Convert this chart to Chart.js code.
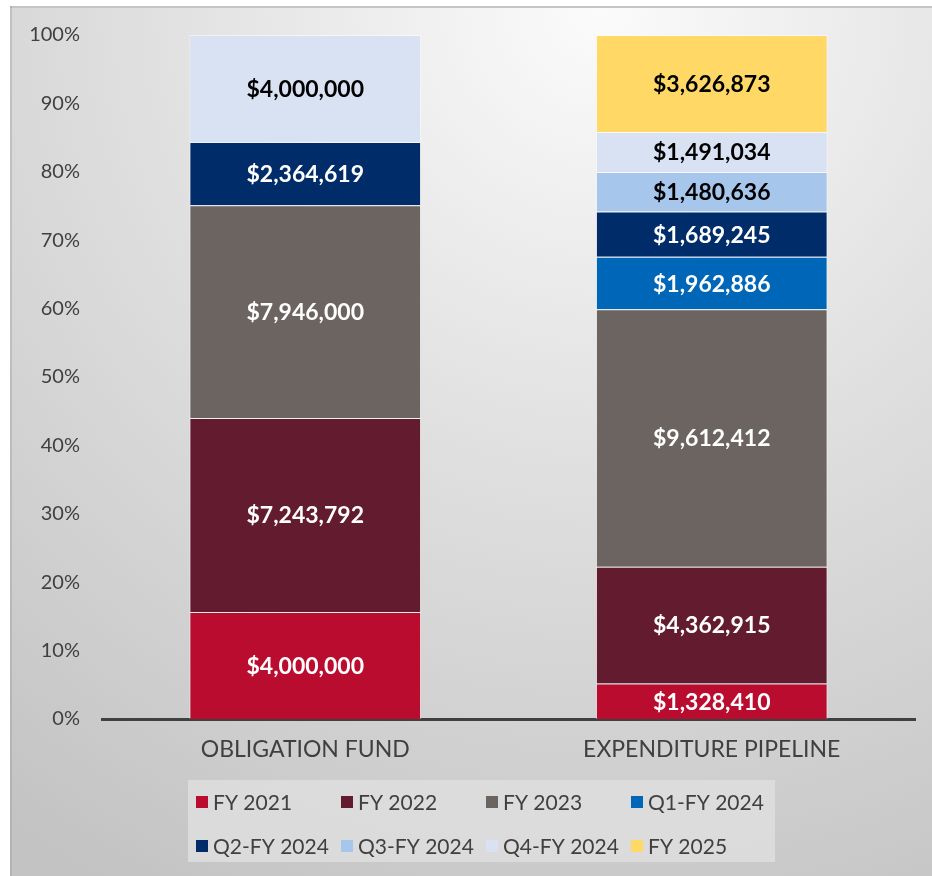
<!DOCTYPE html>
<html>
<head>
<meta charset="utf-8">
<script src="https://cdn.jsdelivr.net/npm/chart.js@4"></script>
<style>
  html, body { margin: 0; padding: 0; background: #fff; }
  #wrap { width: 932px; height: 876px; }
</style>
</head>
<body>
<div id="wrap"><canvas id="fundChart" width="932" height="876"></canvas></div>
<script>
const categories = ["OBLIGATION FUND", "EXPENDITURE PIPELINE"];
const seriesNames = ["FY 2021", "FY 2022", "FY 2023", "Q1-FY 2024", "Q2-FY 2024", "Q3-FY 2024", "Q4-FY 2024", "FY 2025"];
const fy2021 = [4000000, 1328410];
const fy2022 = [7243792, 4362915];
const fy2023 = [7946000, 9612412];
const q1fy2024 = [0, 1962886];
const q2fy2024 = [2364619, 1689245];
const q3fy2024 = [0, 1480636];
const q4fy2024 = [4000000, 1491034];
const fy2025 = [0, 3626873];
const yTicks = ["0%", "10%", "20%", "30%", "40%", "50%", "60%", "70%", "80%", "90%", "100%"];

const seriesValues = [fy2021, fy2022, fy2023, q1fy2024, q2fy2024, q3fy2024, q4fy2024, fy2025];
const colors = ["#BA0C2F", "#621B2F", "#6B6461", "#0066B7", "#002D69", "#A6C6EB", "#D9E2F3", "#FFD866"];
const labelColors = ["#fff", "#fff", "#fff", "#fff", "#fff", "#000", "#000", "#000"];

// column totals, used to turn the amounts into shares of 100%
const totals = categories.map((c, i) => seriesValues.reduce((s, arr) => s + arr[i], 0));

const FONT = "Lato, 'Open Sans', sans-serif";

const background = {
  id: "background",
  beforeDraw(chart) {
    const c = chart.ctx;
    c.save();
    c.fillStyle = "#fff";
    c.fillRect(0, 0, chart.width, chart.height);
    const g = c.createRadialGradient(600, 10, 0, 600, 10, 1000);
    g.addColorStop(0, "#fbfbfb");
    g.addColorStop(0.45, "#e0e0e0");
    g.addColorStop(1, "#c3c3c3");
    c.fillStyle = g;
    c.fillRect(10, 6, chart.width - 10, chart.height - 6);
    c.fillStyle = "#c4c4c4";
    c.fillRect(10, 6, chart.width - 10, 2);
    c.fillStyle = "rgba(150,150,150,0.35)";
    c.fillRect(10, 6, 2, chart.height - 6);
    c.restore();
  }
};

const valueLabels = {
  id: "valueLabels",
  afterDatasetsDraw(chart) {
    const c = chart.ctx;
    c.save();
    c.font = "bold 23px " + FONT;
    c.textAlign = "center";
    c.textBaseline = "middle";
    chart.data.datasets.forEach((ds, di) => {
      const meta = chart.getDatasetMeta(di);
      meta.data.forEach((bar, i) => {
        const v = seriesValues[di][i];
        if (!v) return;
        const { x, y, base } = bar.getProps(["x", "y", "base"], true);
        c.fillStyle = labelColors[di];
        c.fillText("$" + v.toLocaleString("en-US"), x, (y + base) / 2 + 1);
      });
    });
    c.restore();
  }
};

const boxLegend = {
  id: "boxLegend",
  afterDraw(chart) {
    const c = chart.ctx;
    c.save();
    c.fillStyle = "rgba(222,222,222,0.85)";
    c.fillRect(188, 780, 587, 82);
    c.font = "21px " + FONT;
    c.textBaseline = "middle";
    c.textAlign = "left";
    const cols = [196, 341, 486, 631];
    const rows = [802, 846];
    chart.data.datasets.forEach((ds, i) => {
      const x = cols[i % 4];
      const y = rows[Math.floor(i / 4)];
      c.fillStyle = ds.backgroundColor;
      c.fillRect(x, y - 6, 12, 12);
      c.fillStyle = "#404040";
      c.fillText(ds.label, x + 17, y + 1);
    });
    c.restore();
  }
};

new Chart(document.getElementById("fundChart"), {
  type: "bar",
  data: {
    labels: categories,
    datasets: seriesNames.map((name, i) => ({
      label: name,
      data: seriesValues[i].map((v, j) => (v / totals[j]) * 100),
      backgroundColor: colors[i],
      borderColor: "rgba(255,255,255,0.55)",
      borderWidth: 1,
      categoryPercentage: 1,
      barPercentage: 0.57,
    })),
  },
  options: {
    responsive: false,
    animation: false,
    layout: { padding: { top: 35, right: 17, bottom: 107, left: 0 } },
    plugins: {
      legend: { display: false },
      tooltip: { enabled: false },
    },
    scales: {
      x: {
        stacked: true,
        grid: { display: false, drawTicks: false },
        border: { display: true, color: "#404040", width: 3 },
        ticks: { color: "#404040", font: { family: FONT, size: 23 }, padding: 17 },
        afterFit(s) { s.height = 50; },
      },
      y: {
        stacked: true,
        min: 0,
        max: 100,
        grid: { display: false, drawTicks: false },
        border: { display: false },
        ticks: {
          stepSize: 10,
          color: "#404040",
          font: { family: FONT, size: 20 },
          padding: 22,
          callback: (v) => yTicks[Math.round(v / 10)],
        },
        afterFit(s) { s.width = 102; },
      },
    },
  },
  plugins: [background, valueLabels, boxLegend],
});
</script>
</body>
</html>
